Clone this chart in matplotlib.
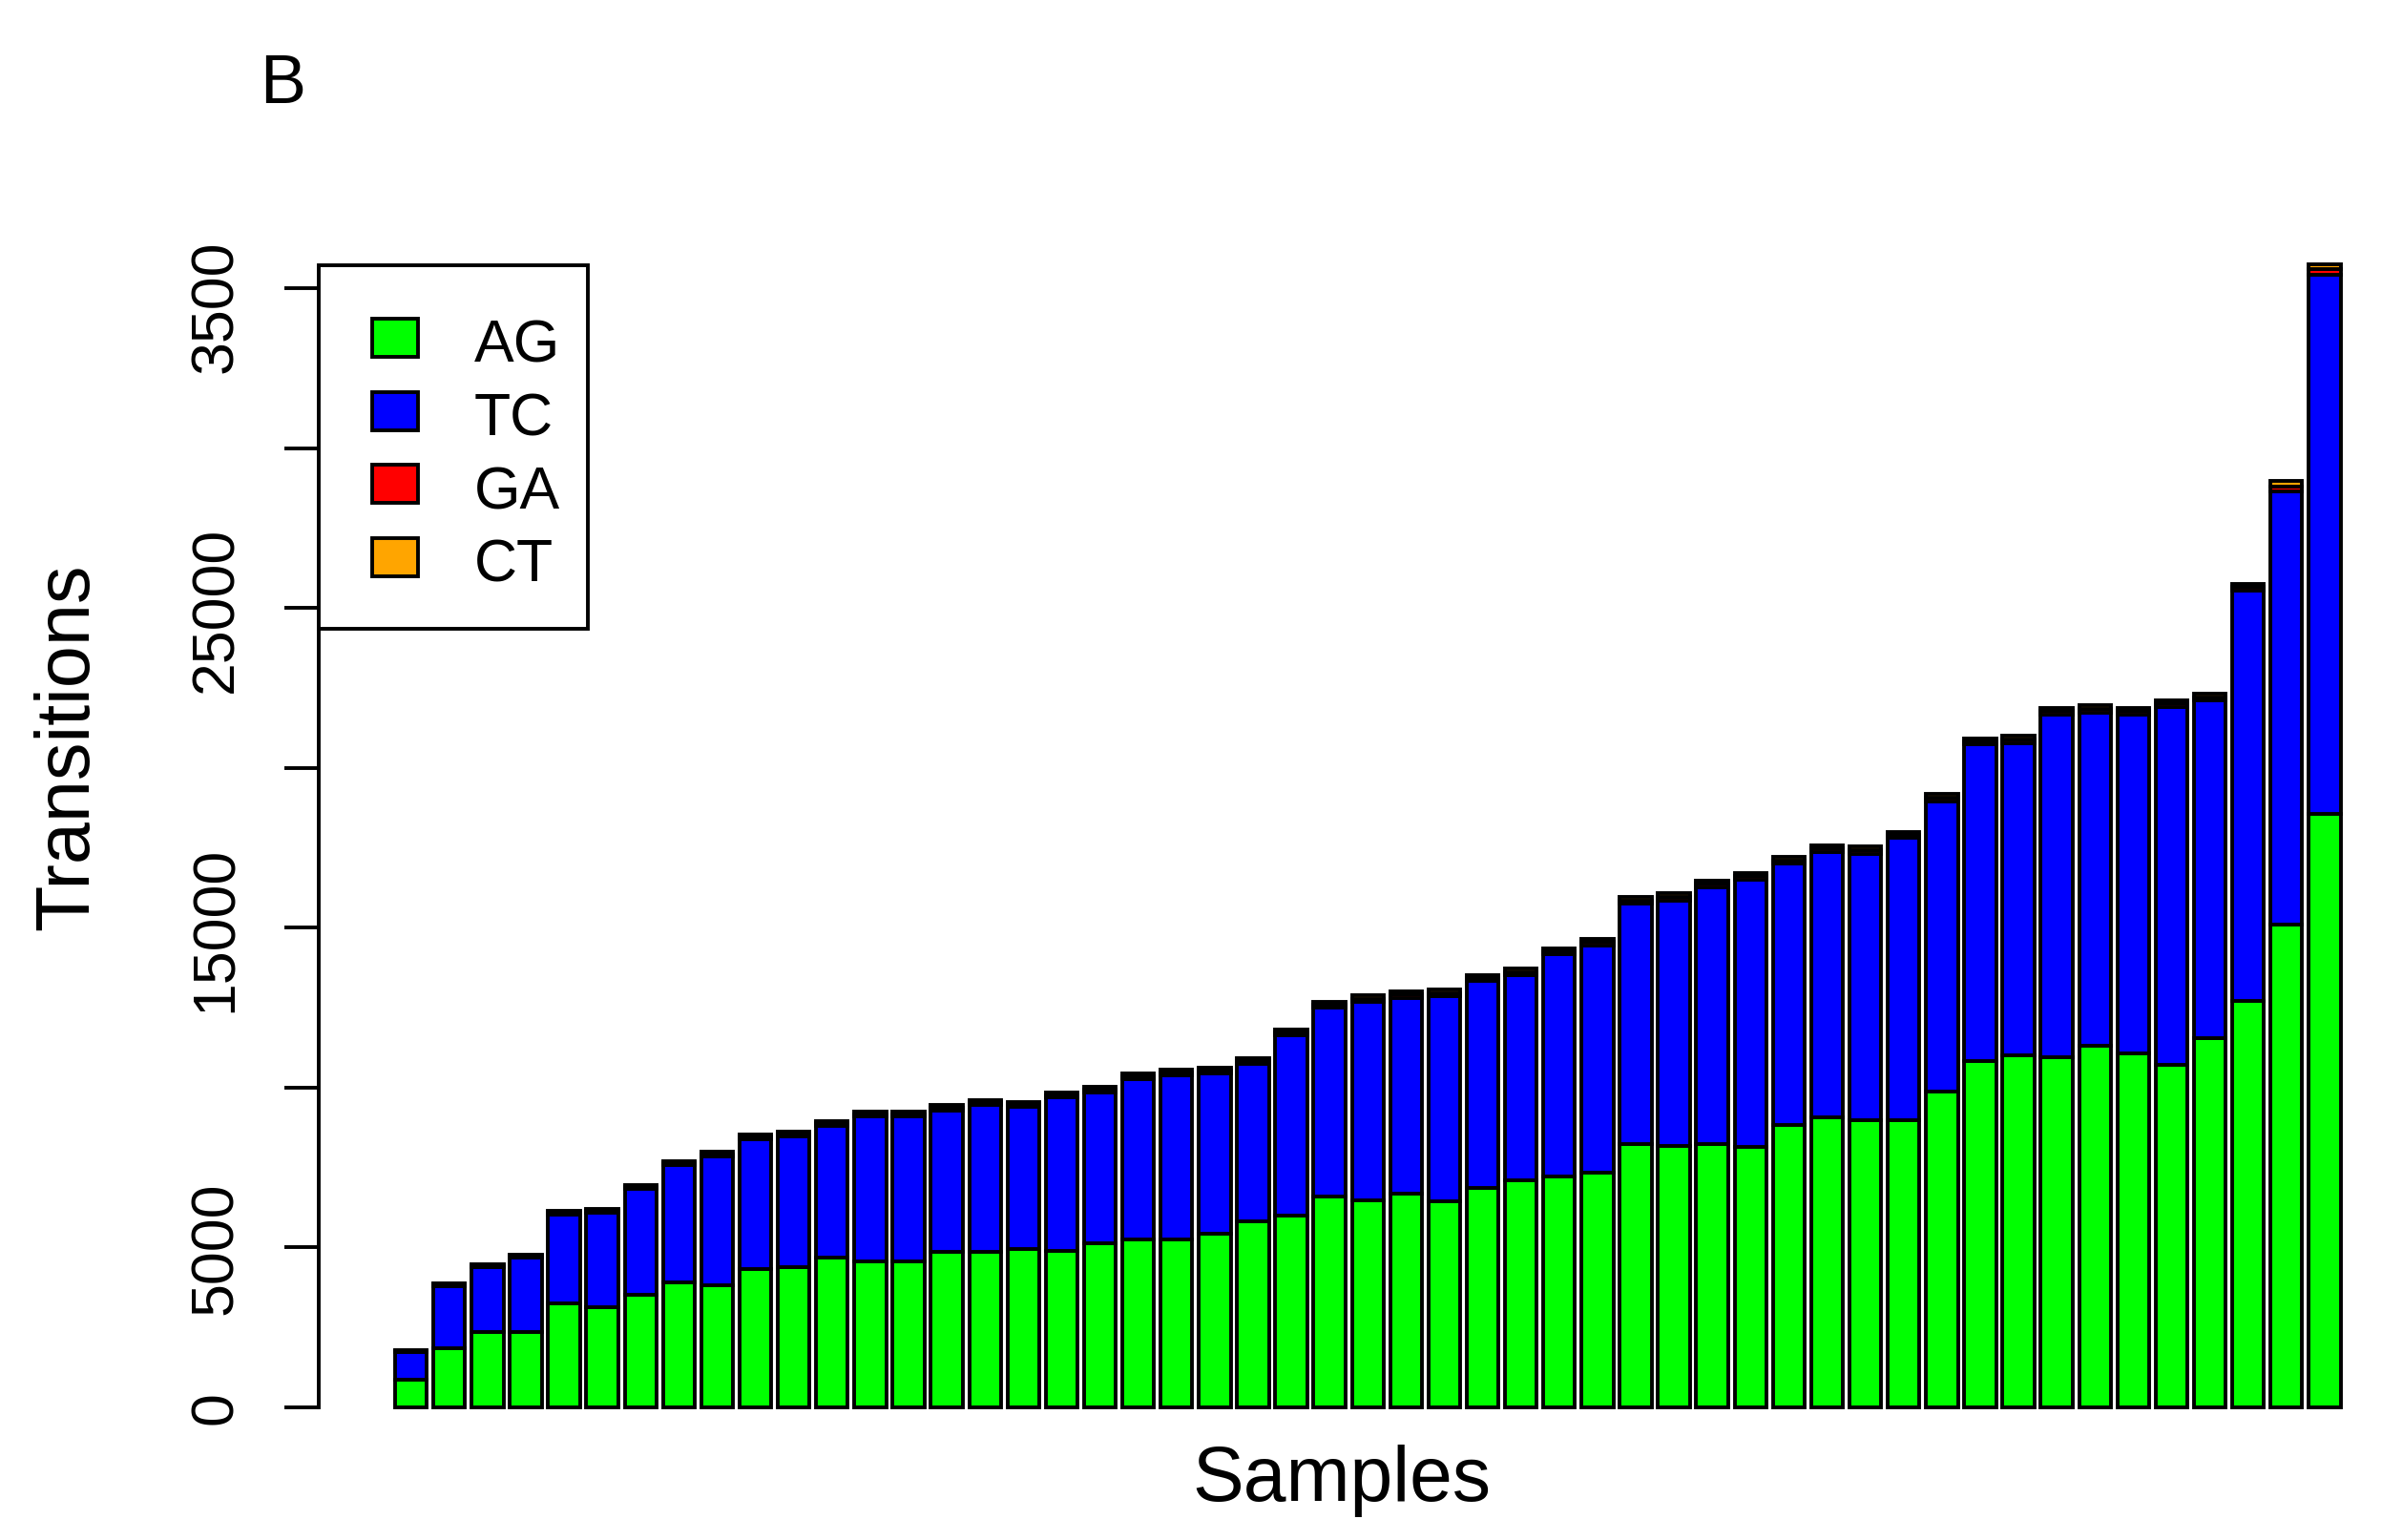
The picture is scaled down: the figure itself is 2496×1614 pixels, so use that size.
import numpy as np
import matplotlib.pyplot as plt
from matplotlib.patches import Rectangle
from matplotlib.transforms import Bbox

plt.rcParams['font.family'] = ['Liberation Sans', 'DejaVu Sans']

# Data =====================================================
labels = ['AG', 'TC', 'GA', 'CT']
colors = ['#00FF00', '#0000FF', '#FF0000', '#FFA500']

total = [1800, 3890, 4480, 4790, 6150, 6220, 6950, 7710, 7990, 8540,
         8620, 8960, 9250, 9250, 9450, 9620, 9560, 9850, 10020, 10450,
         10570, 10630, 10930, 11820, 12700, 12890, 13020, 13060, 13530, 13720,
         14370, 14660, 15970, 16080, 16490, 16730, 17220, 17590, 17540, 18000,
         19180, 20940, 21010, 21890, 21960, 21890, 22130, 22320, 25770, 28980,
         35760]
ag = [875, 1840, 2370, 2370, 3260, 3140, 3510, 3910, 3810, 4340,
      4400, 4700, 4580, 4570, 4860, 4860, 4970, 4910, 5140, 5260,
      5260, 5430, 5830, 6000, 6590, 6480, 6700, 6450, 6860, 7100,
      7230, 7340, 8240, 8190, 8240, 8160, 8850, 9080, 8990, 8990,
      9870, 10830, 11020, 10970, 11300, 11060, 10730, 11540, 12730, 15110,
      18580]
ga = [30, 50, 50, 50, 60, 60, 60, 70, 70, 70,
      70, 70, 80, 80, 80, 80, 80, 80, 80, 90,
      90, 90, 90, 90, 100, 100, 100, 100, 100, 100,
      100, 100, 110, 110, 110, 110, 110, 110, 110, 80,
      110, 90, 110, 110, 110, 120, 120, 100, 110, 150,
      170]
ct = [30, 50, 50, 50, 60, 60, 60, 70, 70, 70,
      70, 70, 80, 80, 80, 80, 80, 80, 80, 90,
      90, 90, 90, 90, 100, 100, 100, 100, 100, 100,
      100, 100, 110, 110, 110, 110, 110, 110, 110, 100,
      110, 100, 110, 100, 110, 90, 100, 100, 110, 170,
      160]

yticks = [0, 5000, 10000, 15000, 20000, 25000, 30000, 35000]
yticklabels = ['0', '5000', '', '15000', '', '25000', '', '35000']

# Plot =====================================================
W, H = 2496, 1615
LW = 2.8
fig = plt.figure(figsize=(W / 100, H / 100), dpi=100)
ax = fig.add_axes([334 / W, 1 - 1524 / H, (W - 334) / W, (1524 - 250) / H])

ag = np.array(ag)
ga = np.array(ga)
ct = np.array(ct)
tc = np.array(total) - ag - ga - ct
x = np.arange(len(total))

bottom = np.zeros(len(total))
for vals, col in zip([ag, tc, ga, ct], colors):
    ax.bar(x, vals, bottom=bottom, width=0.833, color=col,
           edgecolor='black', linewidth=LW)
    bottom = bottom + vals

ax.set_xlim(-2.41, 51.5)
ax.set_ylim(-1433, 36597)
ax.set_xticks([])
ax.set_yticks(yticks)
ax.set_yticklabels(yticklabels, rotation=90, va='center')
ax.tick_params(axis='y', length=26, width=LW, pad=30, labelsize=45)
for s in ['top', 'right', 'bottom']:
    ax.spines[s].set_visible(False)
ax.spines['left'].set_bounds(0, 35000)
ax.spines['left'].set_linewidth(LW)

# top label is cut off in the original
top_lab = ax.yaxis.get_major_ticks()[-1].label1
top_lab.set_clip_on(True)
top_lab.set_clip_box(Bbox.from_extents(0, 0, W, H - 257))

# legend box, drawn by hand in pixel coords
def fx(px):
    return px / W

def fy(py):
    return 1 - py / H

fig.add_artist(Rectangle((fx(334), fy(660)), (616 - 334) / W, (660 - 279) / H,
                         transform=fig.transFigure, facecolor='white',
                         edgecolor='black', linewidth=LW, zorder=5))
for i, (lab, col) in enumerate(zip(labels, colors)):
    top = 335 + i * 76.5
    fig.add_artist(Rectangle((fx(390), fy(top + 40)), 48 / W, 40 / H,
                             transform=fig.transFigure, facecolor=col,
                             edgecolor='black', linewidth=LW, zorder=6))
    fig.text(fx(497), fy(380 + i * 76.5), lab, fontsize=45, va='baseline',
             ha='left', zorder=6)

fig.text(fx(72), fy(783), 'Transitions', rotation=90, ha='center',
         va='center', fontsize=57)
fig.text(fx(1406), fy(1573), 'Samples', ha='center', va='baseline',
         fontsize=58)
fig.text(fx(272), fy(108), 'B', ha='left', va='baseline', fontsize=52)

fig.savefig('out.png', dpi=100)
